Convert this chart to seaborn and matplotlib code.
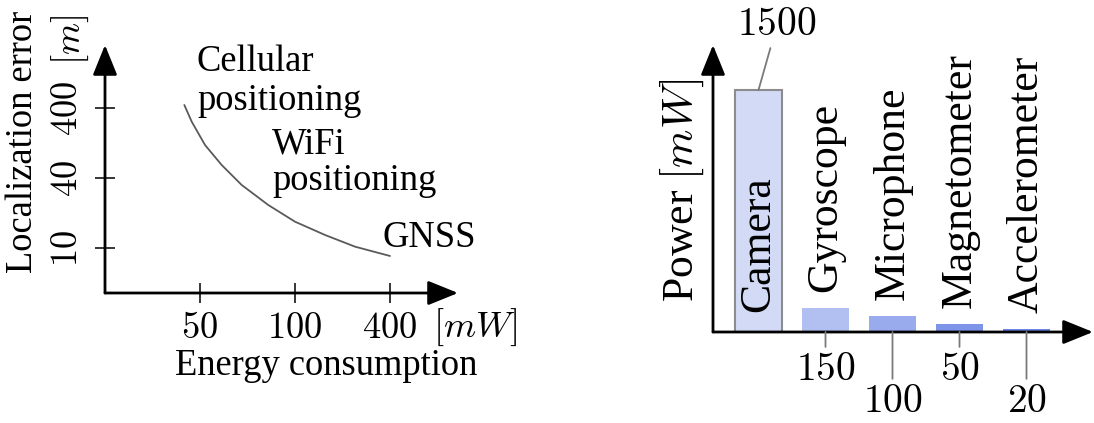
import matplotlib
matplotlib.use("Agg")
import matplotlib.pyplot as plt
import seaborn as sns
from matplotlib.patches import ArrowStyle

# ---- left panel: localization error vs. energy consumption (ordinal axes) ----
energy_ticks = ["50", "100", "400"]
error_ticks = ["10", "40", "400"]
# trade-off curve on the ordinal grid (tick k sits at position k + 1)
curve_x = [0.835, 0.913, 1.053, 1.228, 1.439, 1.719, 2.000, 2.316, 2.632, 3.000]
curve_y = [3.043, 2.804, 2.471, 2.186, 1.900, 1.614, 1.376, 1.186, 1.019, 0.886]
tech_labels = ["Cellular\npositioning", "WiFi\npositioning", "GNSS"]

# ---- right panel: power draw per sensor ----
sensors = ["Camera", "Gyroscope", "Microphone", "Magnetometer", "Accelerometer"]
power_mw = [1500, 150, 100, 50, 20]
bar_colors = ["#d2daf6", "#b2c0f1", "#9aabed", "#7e94e8", "#6e86e5"]

W, H = 1094, 423
sns.set_theme(style="white", rc={"text.color": "black", "axes.labelcolor": "black",
                                 "xtick.color": "black", "ytick.color": "black"})
plt.rcParams["font.family"] = ["Liberation Serif", "DejaVu Serif"]
plt.rcParams["mathtext.fontset"] = "cm"

fig = plt.figure(figsize=(W / 100, H / 100), dpi=100)


def fx(px):
    return px / W


def fy(py):
    return 1 - py / H


def arrow_axes(ax):
    for s in ax.spines.values():
        s.set_visible(False)
    style = ArrowStyle("-|>", head_length=18.5, head_width=7.5)
    for tip in [(1, 0), (0, 1)]:
        ax.annotate("", xy=tip, xytext=(0, 0), xycoords="axes fraction",
                    textcoords="axes fraction", annotation_clip=False,
                    arrowprops=dict(arrowstyle=style, color="black", lw=2,
                                    shrinkA=0, shrinkB=0, mutation_scale=1))


LFS = 26.3   # left panel text size
RFS = 31.5   # right panel text size
NFS = 28.5   # right panel value labels

# ================= left panel =================
ax1 = fig.add_axes([fx(105), fy(293), (458 - 105) / W, (293 - 45) / H])
sns.lineplot(x=curve_x, y=curve_y, ax=ax1, color="#5a5a5a", lw=1.3)
ax1.set_xlim(0, (458 - 105) / 95)
ax1.set_ylim(1 - 45 / 70, 1 + 203 / 70)
arrow_axes(ax1)
ax1.set_xticks([1, 2, 3])
ax1.set_xticklabels([f"${t}$" for t in energy_ticks], fontsize=LFS)
ax1.set_yticks([1, 2, 3])
ax1.set_yticklabels([f"${t}$" for t in error_ticks], fontsize=LFS,
                    rotation=90, va="center")
ax1.tick_params(axis="both", bottom=True, left=True, direction="inout",
                length=14.4, width=1.1, color="black")
ax1.tick_params(axis="x", pad=6)
ax1.tick_params(axis="y", pad=7)
ax1.set_xlabel("")
ax1.set_ylabel("")

fig.text(fx(433), fy(337), r"$[mW]$", fontsize=LFS, ha="left", va="baseline")
fig.text(fx(175), fy(375), "Energy consumption", fontsize=LFS, ha="left", va="baseline")
fig.text(fx(32), fy(273), "Localization error", fontsize=LFS, rotation=90,
         rotation_mode="anchor", ha="left", va="baseline")
fig.text(fx(80), fy(65), r"$[m]$", fontsize=LFS, rotation=90,
         rotation_mode="anchor", ha="left", va="baseline")

# technology labels along the curve (anchored at the last line's baseline)
label_pos = [(197, 110, 1.17), (272, 190, 1.08), (383, 247, 1.2)]
for txt, (px, py, ls) in zip(tech_labels, label_pos):
    fig.text(fx(px), fy(py), txt, fontsize=LFS, ha="left", va="baseline",
             linespacing=ls)

# ================= right panel =================
ax2 = fig.add_axes([fx(713), fy(332), (1093 - 713) / W, (332 - 45) / H])
sns.barplot(x=sensors, y=power_mw, hue=sensors, palette=bar_colors, width=0.7,
            saturation=1, legend=False, ax=ax2)
ax2.set_xlim(-45.5 / 67, (1093 - 758.5) / 67)
ax2.set_ylim(0, 287 * 1500 / 242)
arrow_axes(ax2)
ax2.set_xticks([])
ax2.set_yticks([])
ax2.set_xlabel("")
ax2.set_ylabel("")
for k, bar in enumerate(ax2.patches):
    if k == 0:
        bar.set_edgecolor("#8c8c8c")
        bar.set_linewidth(1.5)
    else:
        bar.set_linewidth(0)

lead = dict(arrowstyle="-", color="#7a7a7a", lw=1.3, shrinkB=0)
# peak value above the camera bar
ax2.annotate(f"${power_mw[0]}$", xy=(0, power_mw[0]), xytext=(13.3, 46.8),
             textcoords="offset points", ha="center", va="center", fontsize=NFS,
             annotation_clip=False, arrowprops=dict(lead, shrinkA=1))
# remaining values hang below the axis, alternating depth
for i in range(1, len(sensors)):
    depth = 27.4 if i % 2 == 1 else 50.4
    ax2.annotate(f"${power_mw[i]}$", xy=(i, 0), xytext=(0, -depth),
                 textcoords="offset points", ha="center", va="center",
                 fontsize=NFS, annotation_clip=False,
                 arrowprops=dict(lead, shrinkA=1))

# sensor names: inside the tall bar, above the short ones
for i, (name, v) in enumerate(zip(sensors, power_mw)):
    base, off = (0, 14.4) if i == 0 else (v, 11.5)
    ax2.annotate(name, xy=(i, base), xytext=(0, off), textcoords="offset points",
                 rotation=90, ha="center", va="bottom", fontsize=RFS,
                 annotation_clip=False)

fig.text(fx(693), fy(302), r"Power $[mW]$", fontsize=RFS, rotation=90,
         rotation_mode="anchor", ha="left", va="baseline")

fig.savefig("out.png", dpi=100, facecolor="white")
